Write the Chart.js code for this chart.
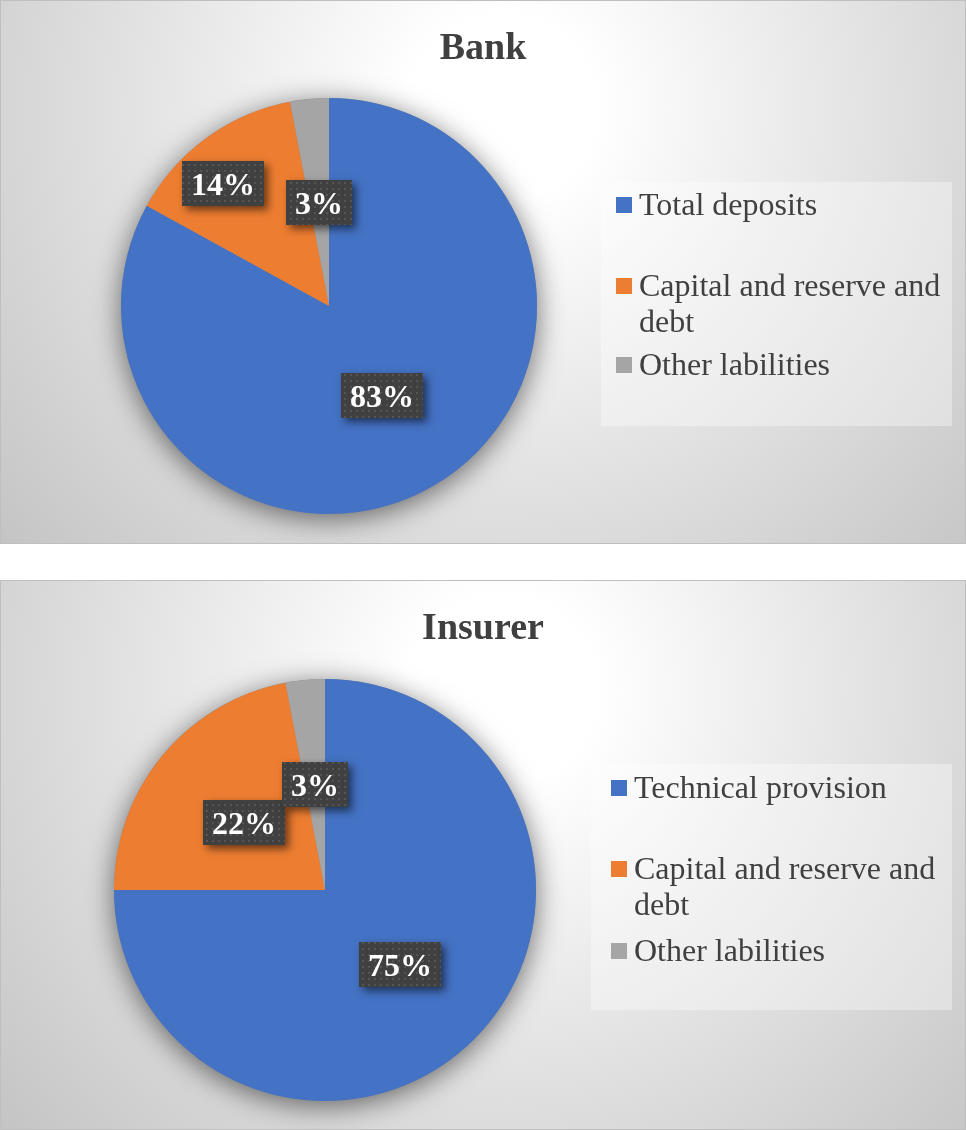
<!DOCTYPE html>
<html>
<head>
<meta charset="utf-8">
<script src="https://cdn.jsdelivr.net/npm/chart.js@4.4.1/dist/chart.umd.min.js"></script>
<style>
  body { margin: 0; background: #fff; width: 966px; height: 1130px; position: relative;
         font-family: "Liberation Serif", "Times New Roman", serif; }
  .panel { position: absolute; left: 0; width: 966px; overflow: hidden;
           background: radial-gradient(circle farthest-corner at 52% 20%, #ffffff 0%, #ffffff 14%, #c4c4c4 100%); }
  .panel canvas { position: absolute; left: 0; top: 0; }
  .frame { position: absolute; left: 0; top: 0; right: 0; bottom: 0; border: 1px solid #bfbfbf; pointer-events: none; }
  .title { position: absolute; left: 0; top: 27px; width: 100%; text-align: center;
           font-weight: bold; font-size: 38px; line-height: 38px; color: #404040; }
  .legend { position: absolute; box-sizing: border-box; background: rgba(255, 255, 255, 0.35); padding-top: 4px; }
  .item { position: relative; padding-left: 23px; font-size: 32px; line-height: 36px; color: #404040; }
  .item i { position: absolute; left: 0; top: 11px; width: 16px; height: 16px; }
</style>
</head>
<body>

<div class="panel" style="top:0;height:544px">
  <canvas id="bankChart" width="966" height="544"></canvas>
  <div class="title">Bank</div>
  <div class="legend" id="bankLegend" style="left:601px;top:182px;width:351px;height:244px;padding-left:15px"></div>
  <div class="frame"></div>
</div>

<div class="panel" style="top:580px;height:550px">
  <canvas id="insurerChart" width="966" height="550"></canvas>
  <div class="title">Insurer</div>
  <div class="legend" id="insurerLegend" style="left:591px;top:184px;width:361px;height:246px;padding-left:20px"></div>
  <div class="frame"></div>
</div>

<script>
// данные
const bankLabels = ['Total deposits', 'Capital and reserve and debt', 'Other labilities'];
const bankValues = [83, 14, 3];

const insurerLabels = ['Technical provision', 'Capital and reserve and debt', 'Other labilities'];
const insurerValues = [75, 22, 3];

const sliceColors = ['#4472C4', '#ED7D31', '#A5A5A5'];

// точечная заливка для подписей
const dotCanvas = document.createElement('canvas');
dotCanvas.width = 6;
dotCanvas.height = 6;
const dctx = dotCanvas.getContext('2d');
dctx.fillStyle = 'rgba(255,255,255,0.11)';
dctx.fillRect(2, 2, 2, 2);

// тень под кругом
const pieShadow = {
    id: 'pieShadow',
    beforeDatasetsDraw(chart) {
        const arc = chart.getDatasetMeta(0).data[0];
        if (!arc) return;
        const ctx = chart.ctx;
        ctx.save();
        ctx.shadowColor = 'rgba(0,0,0,0.55)';
        ctx.shadowBlur = 28;
        ctx.shadowOffsetY = 5;
        ctx.fillStyle = '#888';
        ctx.beginPath();
        ctx.arc(arc.x, arc.y, arc.outerRadius, 0, Math.PI * 2);
        ctx.fill();
        ctx.restore();
    }
};

// подписи процентов в тёмных плашках
const pctLabels = {
    id: 'pctLabels',
    afterDatasetsDraw(chart, args, opts) {
        const ctx = chart.ctx;
        const meta = chart.getDatasetMeta(0);
        const values = chart.data.datasets[0].data;
        const pattern = ctx.createPattern(dotCanvas, 'repeat');
        ctx.save();
        ctx.font = 'bold 32px "Liberation Serif", "Times New Roman", serif';
        meta.data.forEach((arc, i) => {
            const mid = (arc.startAngle + arc.endAngle) / 2 + (opts.shift[i] || 0) * Math.PI / 180;
            const r = arc.outerRadius * opts.radial[i];
            const cx = arc.x + Math.cos(mid) * r;
            const cy = arc.y + Math.sin(mid) * r;
            const text = values[i] + '%';
            const w = Math.round(ctx.measureText(text).width + 18);
            const h = 45;
            const x = Math.round(cx - w / 2);
            const y = Math.round(cy - h / 2);

            ctx.save();
            ctx.shadowColor = 'rgba(0,0,0,0.55)';
            ctx.shadowBlur = 8;
            ctx.shadowOffsetX = 4;
            ctx.shadowOffsetY = 4;
            ctx.fillStyle = '#404040';
            ctx.fillRect(x, y, w, h);
            ctx.restore();

            ctx.fillStyle = pattern;
            ctx.fillRect(x, y, w, h);

            ctx.fillStyle = '#ffffff';
            ctx.textAlign = 'center';
            ctx.textBaseline = 'alphabetic';
            ctx.fillText(text, x + w / 2, y + h / 2 + 11);
        });
        ctx.restore();
    }
};

function makePie(id, labels, values, pad, radial, shift) {
    return new Chart(document.getElementById(id), {
        type: 'pie',
        data: {
            labels: labels,
            datasets: [{
                data: values,
                backgroundColor: sliceColors,
                borderWidth: 0
            }]
        },
        options: {
            responsive: false,
            animation: false,
            events: [],
            layout: { padding: pad },
            plugins: {
                legend: { display: false },
                tooltip: { enabled: false },
                pctLabels: { radial: radial, shift: shift }
            }
        },
        plugins: [pieShadow, pctLabels]
    });
}

function buildLegend(elId, labels, gaps) {
    const box = document.getElementById(elId);
    labels.forEach((name, i) => {
        const item = document.createElement('div');
        item.className = 'item';
        item.style.marginTop = gaps[i] + 'px';
        const mark = document.createElement('i');
        mark.style.background = sliceColors[i];
        item.appendChild(mark);
        item.appendChild(document.createTextNode(name));
        box.appendChild(item);
    });
}

makePie('bankChart', bankLabels, bankValues,
    { top: 98, bottom: 30, left: 121, right: 429 }, [0.5, 0.78, 0.5], [0, -5, 0]);
makePie('insurerChart', insurerLabels, insurerValues,
    { top: 99, bottom: 29, left: 114, right: 430 }, [0.5, 0.5, 0.5], [0, 0, 0]);

buildLegend('bankLegend', bankLabels, [0, 45, 7]);
buildLegend('insurerLegend', insurerLabels, [1, 45, 10]);
</script>
</body>
</html>
